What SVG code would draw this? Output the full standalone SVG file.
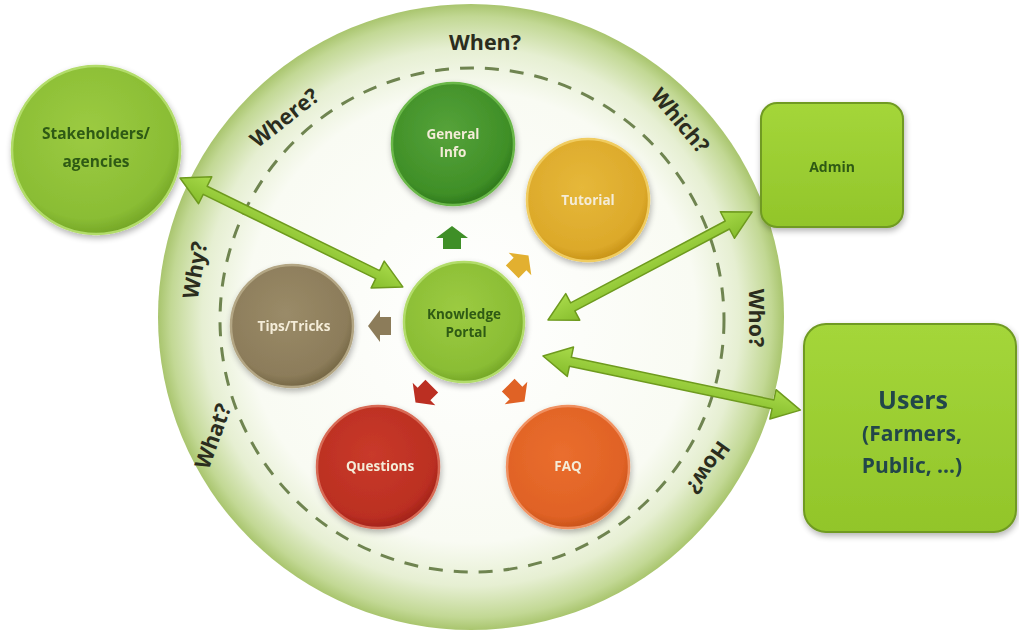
<svg xmlns="http://www.w3.org/2000/svg" width="1019" height="631" viewBox="0 0 1019 631">
  <style>
    .q { font-family: "Open Sans", "Liberation Sans", sans-serif; font-weight: 700; font-size: 21.5px; fill: #2b2d1e; text-anchor: middle; dominant-baseline: central; }
    .lbl { font-family: "Open Sans", "Liberation Sans", sans-serif; font-weight: 700; font-size: 13.5px; fill: #f4ecd8; text-anchor: middle; }
    .dark { fill: #2f5a12; }
    .node-stroke { stroke-width: 2.5; }
    .big { font-family: "Open Sans", "Liberation Sans", sans-serif; font-weight: 700; fill: #24474a; text-anchor: middle; }
    .dbl { fill: url(#arrowFill); stroke: #6e9a1e; stroke-width: 1.5; stroke-linejoin: round; }
  </style>
  <defs>
    <radialGradient id="disc" cx="0.5" cy="0.5" r="0.5">
      <stop offset="0" stop-color="#ffffff"/>
      <stop offset="0.72" stop-color="#f9fbf3"/>
      <stop offset="0.86" stop-color="#e6efd2"/>
      <stop offset="0.96" stop-color="#c2d894"/>
      <stop offset="1" stop-color="#a9c56e"/>
    </radialGradient>
    <radialGradient id="gGreen" cx="0.45" cy="0.4" r="0.6">
      <stop offset="0" stop-color="#56a33a"/>
      <stop offset="0.85" stop-color="#3f8f27"/>
      <stop offset="1" stop-color="#2f7a1c"/>
    </radialGradient>
    <radialGradient id="gGold" cx="0.45" cy="0.4" r="0.6">
      <stop offset="0" stop-color="#e6b83a"/>
      <stop offset="0.85" stop-color="#dca92a"/>
      <stop offset="1" stop-color="#c99418"/>
    </radialGradient>
    <radialGradient id="gLime" cx="0.45" cy="0.4" r="0.6">
      <stop offset="0" stop-color="#9ccb42"/>
      <stop offset="0.85" stop-color="#8abd34"/>
      <stop offset="1" stop-color="#76a828"/>
    </radialGradient>
    <radialGradient id="gKhaki" cx="0.45" cy="0.4" r="0.6">
      <stop offset="0" stop-color="#9a8b68"/>
      <stop offset="0.85" stop-color="#8c7c5a"/>
      <stop offset="1" stop-color="#766846"/>
    </radialGradient>
    <radialGradient id="gRed" cx="0.45" cy="0.4" r="0.6">
      <stop offset="0" stop-color="#c93a2a"/>
      <stop offset="0.85" stop-color="#bb2f22"/>
      <stop offset="1" stop-color="#a3231a"/>
    </radialGradient>
    <radialGradient id="gOrange" cx="0.45" cy="0.4" r="0.6">
      <stop offset="0" stop-color="#ea6e2e"/>
      <stop offset="0.85" stop-color="#e06225"/>
      <stop offset="1" stop-color="#c9531a"/>
    </radialGradient>
    <linearGradient id="boxFill" x1="0" y1="0" x2="0" y2="1">
      <stop offset="0" stop-color="#a4d63a"/>
      <stop offset="1" stop-color="#92c52a"/>
    </linearGradient>
    <linearGradient id="arrowFill" x1="0" y1="0" x2="0" y2="1">
      <stop offset="0" stop-color="#a8da4a"/>
      <stop offset="1" stop-color="#86bd2c"/>
    </linearGradient>
    <filter id="soft" x="-20%" y="-20%" width="140%" height="140%">
      <feGaussianBlur in="SourceAlpha" stdDeviation="3"/>
      <feOffset dx="1" dy="3" result="b"/>
      <feComponentTransfer><feFuncA type="linear" slope="0.3"/></feComponentTransfer>
      <feMerge><feMergeNode/><feMergeNode in="SourceGraphic"/></feMerge>
    </filter>
    <!-- small block arrow pointing up, centred on origin -->
    <path id="blk" d="M0,-12 L16,0 L9,0 L9,11 L-9,11 L-9,0 L-16,0 Z"/>
  </defs>

  <rect width="1019" height="631" fill="#ffffff"/>

  <!-- outer disc and dashed ring -->
  <g id="disc-bg">
    <circle cx="471" cy="317" r="313" fill="url(#disc)"/>
    <circle cx="472" cy="320" r="252" fill="none" stroke="#6f8450" stroke-width="3" stroke-dasharray="14 11"/>
  </g>

  <!-- question words around the ring -->
  <g id="questions">
    <text class="q" x="485" y="41">When?</text>
    <text class="q" transform="translate(284,117) rotate(-38)">Where?</text>
    <text class="q" transform="translate(681,120) rotate(50)">Which?</text>
    <text class="q" transform="translate(194,270) rotate(-80)">Why?</text>
    <text class="q" transform="translate(757,318) rotate(90)">Who?</text>
    <text class="q" transform="translate(212,436) rotate(-70)">What?</text>
    <text class="q" transform="translate(709,468) rotate(125)">How?</text>
  </g>

  <!-- inner topic circles -->
  <g id="general-info" filter="url(#soft)">
    <circle cx="453" cy="144" r="61" fill="url(#gGreen)" stroke="#6bb84a" class="node-stroke"/>
    <text class="lbl" x="453" y="139" fill="#cfe6c0">General</text>
    <text class="lbl" x="453" y="157">Info</text>
  </g>
  <g id="tutorial" filter="url(#soft)">
    <circle cx="588" cy="200" r="61" fill="url(#gGold)" stroke="#f0cc60" class="node-stroke"/>
    <text class="lbl" x="588" y="205">Tutorial</text>
  </g>
  <g id="knowledge-portal" filter="url(#soft)">
    <circle cx="464" cy="322" r="60" fill="url(#gLime)" stroke="#b2dc6a" class="node-stroke"/>
    <text class="lbl dark" x="464" y="319">Knowledge</text>
    <text class="lbl dark" x="466" y="337">Portal</text>
  </g>
  <g id="tips-tricks" filter="url(#soft)">
    <circle cx="292" cy="326" r="61" fill="url(#gKhaki)" stroke="#b3a684" class="node-stroke"/>
    <text class="lbl" x="294" y="331">Tips/Tricks</text>
  </g>
  <g id="questions-node" filter="url(#soft)">
    <circle cx="378" cy="467" r="61" fill="url(#gRed)" stroke="#d86a55" class="node-stroke"/>
    <text class="lbl" x="380" y="471">Questions</text>
  </g>
  <g id="faq" filter="url(#soft)">
    <circle cx="568" cy="467" r="61" fill="url(#gOrange)" stroke="#f09060" class="node-stroke"/>
    <text class="lbl" x="568" y="471">FAQ</text>
  </g>

  <!-- outside actors -->
  <g id="stakeholders" filter="url(#soft)">
    <circle cx="96" cy="150" r="84" fill="url(#gLime)" stroke="#b2dc6a" class="node-stroke"/>
    <text class="lbl dark" x="96" y="139" style="font-size:15.5px">Stakeholders/</text>
    <text class="lbl dark" x="96" y="167" style="font-size:15.5px">agencies</text>
  </g>
  <g id="admin" filter="url(#soft)">
    <rect x="761" y="103" width="142" height="124" rx="16" fill="url(#boxFill)" stroke="#6f9a22" stroke-width="2"/>
    <text class="lbl dark" x="832" y="172" style="font-size:14px">Admin</text>
  </g>
  <g id="users" filter="url(#soft)">
    <rect x="804" y="324" width="212" height="208" rx="22" fill="url(#boxFill)" stroke="#6f9a22" stroke-width="2"/>
    <text class="big" x="913" y="409" style="font-size:25px">Users</text>
    <text class="big" x="912" y="441" style="font-size:21px">(Farmers,</text>
    <text class="big" x="912" y="473" style="font-size:21px">Public, ...)</text>
  </g>

  <!-- connectors: small block arrows from the portal and the double arrows -->
  <g id="connectors">
    <use href="#blk" transform="translate(452,238)" fill="#3f8f27"/>
    <use href="#blk" transform="translate(520,264) rotate(45)" fill="#e2b030"/>
    <use href="#blk" transform="translate(380,326) rotate(-90)" fill="#8c7c5a"/>
    <use href="#blk" transform="translate(424,394) rotate(-135)" fill="#bb2f22"/>
    <use href="#blk" transform="translate(516,393) rotate(135)" fill="#e06225"/>

    <polygon class="dbl" transform="translate(180,178) rotate(26.05)" points="0,0 28,-15 28,-4.5 220,-4.5 220,-15 248,0 220,15 220,4.5 28,4.5 28,15"/>
    <polygon class="dbl" transform="translate(548,320) rotate(-27.9)" points="0,0 28,-15 28,-4.5 203,-4.5 203,-15 231,0 203,15 203,4.5 28,4.5 28,15"/>
    <polygon class="dbl" transform="translate(543,356) rotate(11.87)" points="0,0 28,-15 28,-4.5 235,-4.5 235,-15 263,0 235,15 235,4.5 28,4.5 28,15"/>
  </g>
</svg>
